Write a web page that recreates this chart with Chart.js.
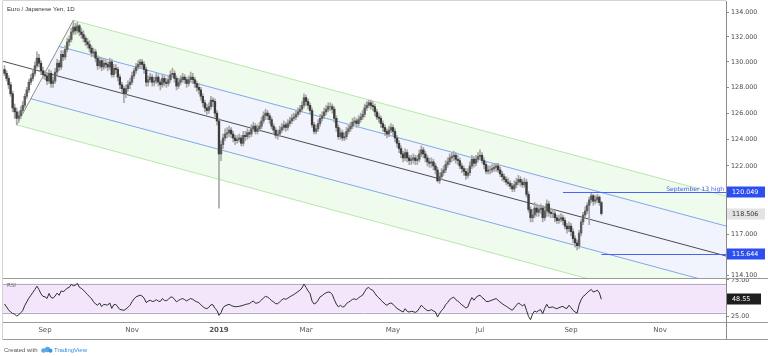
<!DOCTYPE html>
<html><head><meta charset="utf-8">
<script src="https://cdn.jsdelivr.net/npm/chart.js@4.4.0/dist/chart.umd.min.js"></script>
<style>
html,body{margin:0;padding:0;background:#fff;width:768px;height:356px;overflow:hidden}
#wrap{position:relative;width:768px;height:356px}
#c1{position:absolute;left:0;top:0}
#c2{position:absolute;left:0;top:279px}
</style></head>
<body><div id="wrap">
<canvas id="c1" width="768" height="279"></canvas>
<canvas id="c2" width="768" height="77"></canvas>
</div>
<script>
// ---- data (bar index 0 = 3 Sep 2018, daily bars, weekdays) ----
const startIndex = -20;
const firstOpen = 129.4;
const closes = [
129.1,128.7,128.2,127.5,126.4,126.1,125.6,125.8,126.2,126.6,
127.3,127.8,128.4,128.7,129.1,129.7,130.3,129.9,129.3,129.0,
128.9,128.5,129.1,128.3,128.5,129.2,129.9,129.6,130.6,130.4,
131.0,131.6,131.8,132.4,132.8,132.5,132.9,132.4,132.2,131.9,
131.6,131.4,131.1,130.7,130.8,130.3,129.7,130.1,129.6,129.9,
129.8,129.6,130.0,129.0,129.5,129.4,128.8,128.2,127.9,127.5,
127.9,128.2,128.4,128.9,129.3,129.6,129.8,130.0,129.8,129.4,
128.4,128.6,128.8,128.4,128.5,128.8,128.4,128.2,128.7,128.4,
128.3,128.6,129.0,129.1,128.7,128.1,128.4,128.6,128.8,128.6,
128.3,128.6,128.8,128.6,128.3,128.0,127.8,127.3,126.8,126.4,
126.2,126.5,127.0,126.9,126.0,125.4,122.9,123.6,124.1,124.4,
124.5,124.7,124.4,124.1,123.9,124.0,124.1,123.7,124.3,124.2,
124.5,124.4,124.8,125.0,124.6,124.8,125.0,125.4,125.8,126.0,
125.8,125.5,125.0,124.7,124.3,124.4,124.7,124.9,125.1,124.9,
125.2,125.4,125.6,125.7,125.9,126.1,126.3,126.6,127.2,126.9,
126.6,126.2,125.1,124.6,124.8,125.2,125.6,125.8,126.1,126.3,
126.5,126.5,126.3,125.6,124.9,124.2,124.5,124.1,124.2,124.6,
124.8,125.0,125.3,125.4,125.2,125.5,125.7,125.9,126.4,126.6,
126.8,126.6,126.5,126.1,125.7,125.6,125.2,124.9,124.6,124.4,
124.7,124.9,124.6,124.1,123.7,123.3,122.9,122.6,123.0,122.6,
122.4,122.5,122.6,122.4,122.5,122.9,123.2,122.9,122.6,122.3,
122.2,122.3,122.0,121.7,120.9,121.2,121.5,121.7,122.1,122.3,
122.6,122.7,122.8,122.5,122.4,122.0,121.8,121.6,121.3,121.5,
122.0,122.5,122.2,122.5,122.7,122.8,122.4,122.1,121.6,121.7,
121.7,121.8,121.9,122.0,121.7,121.4,121.2,121.0,120.8,120.7,
120.5,120.3,120.6,120.8,121.0,120.8,120.6,120.8,119.9,118.8,
118.2,118.4,118.9,118.6,118.8,118.9,118.2,118.7,119.2,118.6,
118.5,118.5,118.2,118.0,118.1,118.2,118.0,117.6,117.4,117.6,
117.2,116.7,116.4,116.2,117.1,117.9,118.4,118.7,119.1,119.5,
119.8,119.4,119.5,119.7,119.3,118.506];
const highs = [
129.7,129.3,128.9,128.4,127.7,126.7,126.4,126.1,126.5,126.9,
127.5,128.0,128.6,129.0,129.4,130.0,130.8,130.6,130.1,129.6,
129.3,129.1,129.4,129.3,128.8,129.5,130.2,130.1,130.9,130.9,
131.3,131.9,132.1,132.7,133.35,133.1,133.2,133.0,132.7,132.5,
132.1,131.9,131.7,131.3,131.1,131.0,130.5,130.4,130.3,130.2,
130.2,130.0,130.3,130.2,129.8,129.8,129.6,129.0,128.4,128.1,
128.2,128.5,128.7,129.2,129.5,129.9,130.1,130.2,130.2,130.0,
129.6,128.9,129.1,129.0,128.8,129.1,129.0,128.6,129.0,128.9,
128.7,128.9,129.3,129.5,129.3,128.9,128.7,128.9,129.1,129.0,
128.8,128.9,129.2,129.1,128.8,128.5,128.3,128.0,127.5,127.0,
126.7,126.8,127.3,127.2,127.1,126.2,125.6,123.9,124.4,124.8,
124.9,125.0,124.9,124.6,124.3,124.3,124.4,124.3,124.6,124.6,
124.8,124.7,125.1,125.3,125.2,125.1,125.3,125.7,126.1,126.3,
126.2,126.0,125.7,125.2,124.9,124.7,125.0,125.2,125.4,125.3,
125.5,125.7,125.9,126.0,126.2,126.4,126.6,126.9,127.5,127.4,
127.1,126.8,126.4,125.3,125.1,125.5,125.9,126.1,126.4,126.6,
126.8,126.8,126.7,126.5,125.8,125.1,124.8,124.7,124.5,124.9,
125.1,125.3,125.6,125.7,125.6,125.8,126.0,126.2,126.7,126.9,
127.0,127.0,126.9,126.7,126.3,126.0,125.8,125.4,125.1,124.8,
125.0,125.2,125.1,124.8,124.3,123.9,123.5,123.1,123.3,123.2,
122.8,122.8,122.9,122.8,122.8,123.2,123.5,123.4,123.1,122.8,
122.6,122.6,122.5,122.2,121.9,121.5,121.8,122.0,122.4,122.6,
122.9,123.0,123.1,123.0,122.8,122.6,122.2,122.0,121.8,121.8,
122.3,122.8,122.7,122.8,123.0,123.2,123.0,122.6,122.3,122.0,
122.0,122.1,122.2,122.2,122.2,121.9,121.6,121.4,121.2,121.1,
120.9,120.7,120.9,121.1,121.3,121.2,121.0,121.1,121.0,120.1,
119.0,118.8,119.3,119.2,119.1,119.2,119.1,119.0,119.5,119.4,
118.9,118.8,118.7,118.4,118.4,118.5,118.4,118.2,117.8,117.9,
117.8,117.4,116.9,116.6,117.3,118.1,118.6,119.0,119.3,119.7,
120.05,119.9,119.8,119.9,119.8,119.4];
const lows = [
128.9,128.5,127.9,127.3,126.1,125.6,125.1,125.3,125.6,126.0,
126.4,127.1,127.6,128.2,128.5,128.9,129.5,129.6,129.0,128.7,
128.6,128.2,128.3,128.0,128.0,128.3,129.0,129.3,129.4,130.1,
130.2,130.8,131.3,131.6,132.2,132.2,132.3,132.1,131.9,131.6,
131.3,131.1,130.8,130.4,130.4,130.0,129.4,129.5,129.3,129.4,
129.5,129.3,129.4,128.8,128.8,129.1,128.5,127.9,127.6,126.8,
127.2,127.7,127.9,128.2,128.7,129.1,129.4,129.5,129.5,129.1,
128.1,128.1,128.4,128.1,128.1,128.3,128.1,127.8,128.0,128.1,
128.0,128.1,128.4,128.8,128.4,127.8,127.9,128.2,128.4,128.3,
128.0,128.1,128.4,128.3,128.0,127.7,127.5,127.0,126.5,126.1,
125.9,126.0,126.3,126.5,125.7,125.1,118.9,122.4,123.3,123.9,
124.1,124.2,124.1,123.8,123.6,123.7,123.8,123.5,123.5,123.9,
124.0,124.1,124.2,124.6,124.4,124.4,124.6,124.8,125.2,125.5,
125.5,125.2,124.8,124.4,124.1,124.0,124.2,124.5,124.7,124.6,
124.7,125.0,125.2,125.4,125.5,125.7,125.9,126.1,126.4,126.6,
126.3,125.9,124.9,124.4,124.4,124.6,125.0,125.4,125.6,125.9,
126.1,126.2,126.0,125.3,124.6,124.0,124.0,123.9,123.9,124.0,
124.4,124.6,124.8,125.1,124.9,125.0,125.3,125.5,125.7,126.2,
126.4,126.3,126.2,125.8,125.5,125.3,124.9,124.6,124.3,124.1,
124.2,124.5,124.3,123.8,123.4,123.0,122.6,122.3,122.4,122.3,
122.1,122.1,122.2,122.1,122.1,122.3,122.7,122.6,122.3,122.0,
121.9,121.9,121.7,121.4,120.8,120.7,121.0,121.3,121.5,121.9,
122.1,122.3,122.4,122.2,122.1,121.8,121.5,121.3,121.0,121.1,
121.3,121.8,121.9,122.0,122.3,122.5,122.2,121.8,121.4,121.4,
121.4,121.5,121.6,121.6,121.5,121.2,120.9,120.8,120.6,120.5,
120.3,120.1,120.1,120.4,120.6,120.5,120.4,120.4,119.7,118.6,
117.9,117.9,118.2,118.3,118.3,118.5,117.9,118.0,118.3,118.3,
118.2,118.2,117.9,117.8,117.8,117.9,117.7,117.4,117.1,117.2,
116.9,116.4,116.1,115.9,116.0,116.9,117.7,118.2,118.5,117.7,
119.3,119.1,119.2,119.3,119.1,118.4];
const rsi = [
42,38,34,31,29,28,25.5,27,30,33,
40,45,50,54,58,62,66.5,62,56,52.5,
52,49.5,56.5,51,50,53,57,54,60,59,
61,64,64.8,69,67,68,70.4,65,63.4,61,
58,55,52,49.5,45,42,40.3,43.5,38.5,41.5,
41,40.5,43.5,36,41,41.5,38,34.5,34,33.3,
35,37.5,40.3,45,49,51.9,53,54.2,53,50,
44,46,47.2,45.5,46,48,46,45.5,49.5,47,
46.5,48.5,51.5,51.5,48.5,45,47,48.5,49.5,48,
46.3,48,49.5,48.5,46.5,45,44,41,38.5,36.5,
35.6,37.5,41,41,36,33.3,26.4,30,37,39.5,
40.5,41.7,40,38.9,38.3,38.5,38.9,39.5,40.3,41.3,
42,42.6,44.5,46.3,43,43.5,44.9,47.5,50.5,52.5,
51.5,49.5,46.5,44.9,42.5,42.5,44.9,47.5,49.5,48.5,
50,51.9,53.5,55,57,59,61,64,69.4,65,
60,56.5,46,42,43.5,47.2,52,53.5,56,57.5,
58.5,58,55,48,42,38,40.3,38,38.5,42.6,
44.5,46.3,48.5,49,48.1,50.5,52.5,54.2,59,63.4,
64.8,62,61,57,53,50.5,47.5,44.9,42,40.3,
42.5,43.5,41.7,38.5,36,34.3,32.5,31,35.6,32,
31,32,31.5,30.5,32,36,40.3,37.5,35,33,
33,34.3,32.5,31,24.1,29,33,36,41,44,
48.1,50,51.5,48,46.3,43.5,41,38.9,36.5,38,
45.5,50.9,47.2,51,53,54.2,51,49,45.5,45.5,
46.3,47.5,48.5,49.5,47,44.5,42.5,40.5,38.9,37,
35,33.5,37,40.3,43.5,41.5,39.5,41.7,33.3,25,
20.4,28.7,32.4,31,33,34.3,28.7,36,41.7,37,
37.5,38,36.5,35.6,37,38,38.9,36.5,36,40.3,
37,33.3,31,29.6,41,48,52.5,54.5,57.5,60,
62,58.5,59.5,61,57.4,48.55];
const monthTicks = [0,43,86,129,172,215,260,304];
const monthLabels = ['Sep','Nov','2019','Mar','May','Jul','Sep','Nov'];
const priceTicks = [134,132,130,128,126,124,122,117,114.1];
const rsiTicks = [75,25];
const pitchP1 = [-40,130.89];
const pitchP2 = [-14,125.1];
const pitchP3 = [14,133.35];
const sep13High = 120.049, sep13From = 256;
const lowLevel = 115.644, lowLevelFrom = 275;

// ---- derived ----
const opens = closes.map((c,k)=> k===0 ? firstOpen : closes[k-1]);
const idx = closes.map((_,k)=> startIndex + k);
const lastClose = closes[closes.length-1];
const lastRsi = rsi[rsi.length-1];

const X_MIN = -20.76, X_MAX = 336.6;
const BLUE = '#2d4ff0';
const FONT = '"DejaVu Sans", sans-serif';
Chart.defaults.font.family = 'DejaVu Sans';

function poly(ctx, pts, fill){ctx.beginPath();ctx.moveTo(pts[0].x,pts[0].y);for(const p of pts.slice(1))ctx.lineTo(p.x,p.y);ctx.closePath();ctx.fillStyle=fill;ctx.fill();}
function seg(ctx,a,b,color){ctx.beginPath();ctx.moveTo(a.x,a.y);ctx.lineTo(b.x,b.y);ctx.strokeStyle=color;ctx.lineWidth=1;ctx.stroke();}
function axisBox(ctx, y, text, bg, fg, x0, x1){
  ctx.fillStyle=bg; ctx.fillRect(x0, Math.round(y)-5.5, x1-x0, 11);
  ctx.fillStyle=fg; ctx.font='6.4px '+FONT; ctx.textAlign='left'; ctx.textBaseline='middle';
  ctx.fillText(text, x0+5, y+0.5);
}

const pricePlugin = {
  id:'pricePlugin',
  beforeDatasetsDraw(chart){
    const {ctx, chartArea:ca, scales:{x,y}} = chart;
    const P = q => ({x:x.getPixelForValue(q[0]), y:y.getPixelForValue(q[1])});
    const a=P(pitchP2), b=P(pitchP3), p1=P(pitchP1);
    const m={x:(a.x+b.x)/2,y:(a.y+b.y)/2};
    let dx=m.x-p1.x, dy=m.y-p1.y; const L=Math.hypot(dx,dy); dx=dx/L*3000; dy=dy/L*3000;
    const lerp=t=>({x:a.x+(b.x-a.x)*t,y:a.y+(b.y-a.y)*t});
    const q25=lerp(0.25), q75=lerp(0.75);
    const far=p=>({x:p.x+dx,y:p.y+dy});
    ctx.save();
    ctx.beginPath(); ctx.rect(ca.left,ca.top,ca.width,ca.height); ctx.clip();
    poly(ctx,[b,far(b),far(a),a],'#effbec');
    poly(ctx,[q75,far(q75),far(q25),q25],'#f1f4fc');
    seg(ctx,b,far(b),'#b6e8aa');
    seg(ctx,a,far(a),'#b6e8aa');
    seg(ctx,q75,far(q75),'#80a8ec');
    seg(ctx,q25,far(q25),'#80a8ec');
    seg(ctx,p1,far(m),'#4d4d4d');
    seg(ctx,a,b,'#8c8c8c');
    ctx.restore();
  },
  afterDatasetsDraw(chart){
    const {ctx, chartArea:ca, scales:{x,y}} = chart;
    ctx.save();
    const yh=Math.round(y.getPixelForValue(sep13High))+0.5;
    ctx.beginPath();ctx.moveTo(x.getPixelForValue(sep13From),yh);ctx.lineTo(ca.right,yh);
    ctx.strokeStyle='#4a63f5';ctx.lineWidth=1;ctx.stroke();
    ctx.fillStyle='#3f5cf0';ctx.font='6px '+FONT;ctx.textAlign='right';ctx.textBaseline='alphabetic';
    ctx.fillText('September 13 high', ca.right-2, yh-2);
    const yl=Math.round(y.getPixelForValue(lowLevel))+0.5;
    ctx.beginPath();ctx.moveTo(x.getPixelForValue(lowLevelFrom),yl);ctx.lineTo(ca.right,yl);
    ctx.strokeStyle='#4a63f5';ctx.stroke();
    ctx.restore();
  },
  afterDraw(chart){
    const {ctx, chartArea:ca, scales:{y}} = chart;
    ctx.save();
    ctx.strokeStyle='#d4d4d4';ctx.lineWidth=1;
    ctx.beginPath();ctx.moveTo(ca.left-0.5,ca.top-0.5);ctx.lineTo(ca.right,ca.top-0.5);ctx.stroke();
    ctx.beginPath();ctx.moveTo(ca.left-0.5,ca.top);ctx.lineTo(ca.left-0.5,chart.height);ctx.stroke();
    ctx.strokeStyle='#9a9a9a';
    ctx.beginPath();ctx.moveTo(ca.left,ca.bottom+0.5);ctx.lineTo(chart.width,ca.bottom+0.5);ctx.stroke();
    axisBox(ctx, y.getPixelForValue(sep13High), sep13High.toFixed(3), BLUE, '#fff', ca.right+1, 765);
    axisBox(ctx, y.getPixelForValue(lastClose), lastClose.toFixed(3), '#e3e3e3', '#333', ca.right+1, 765);
    axisBox(ctx, y.getPixelForValue(lowLevel), lowLevel.toFixed(3), BLUE, '#fff', ca.right+1, 765);
    ctx.fillStyle='#333';ctx.font='6.1px "Liberation Sans", sans-serif';ctx.textAlign='left';ctx.textBaseline='middle';
    ctx.fillText('Euro / Japanese Yen, 1D', 7, 9.5);
    ctx.restore();
  }
};

new Chart(document.getElementById('c1'), {
  type:'bar',
  data:{datasets:[
    {label:'body', order:1, grouped:false, barThickness:1.7,
     data: idx.map((i,k)=>({x:i, y:[opens[k], closes[k]]})),
     backgroundColor: c => closes[c.dataIndex] >= opens[c.dataIndex] ? '#5e5e5e' : '#3c3c3c'},
    {label:'wick', order:2, grouped:false, barThickness:1,
     data: idx.map((i,k)=>({x:i, y:[lows[k], highs[k]]})),
     backgroundColor:'#a8a8a8'}
  ]},
  options:{
    responsive:false, animation:false, events:[],
    layout:{padding:{left:3,top:1,bottom:1,right:0}},
    plugins:{legend:{display:false},tooltip:{enabled:false}},
    scales:{
      x:{type:'linear',display:false,min:X_MIN,max:X_MAX,offset:false},
      y:{type:'logarithmic',position:'right',min:113.93,max:134.93,
        afterBuildTicks:s=>{s.ticks=priceTicks.map(v=>({value:v}));},
        afterFit:s=>{s.width=42;s.paddingTop=0;s.paddingBottom=0;},
        ticks:{autoSkip:false,callback:v=>Number(v).toFixed(3),font:{size:6.4},color:'#4a4a4a',padding:2},
        grid:{drawOnChartArea:false,drawTicks:true,tickLength:3,color:'#8a8a8a'},
        border:{display:true,color:'#8a8a8a'}}
    }
  },
  plugins:[pricePlugin]
});

const rsiPlugin = {
  id:'rsiPlugin',
  beforeDatasetsDraw(chart){
    const {ctx, chartArea:ca, scales:{y}} = chart;
    const y70=y.getPixelForValue(70), y30=y.getPixelForValue(30);
    ctx.save();
    ctx.fillStyle='#f3e6fb';ctx.fillRect(ca.left,y70,ca.width,y30-y70);
    ctx.strokeStyle='#b4aac4';ctx.lineWidth=1;
    ctx.beginPath();ctx.moveTo(ca.left,Math.round(y70)+0.5);ctx.lineTo(ca.right,Math.round(y70)+0.5);ctx.stroke();
    ctx.beginPath();ctx.moveTo(ca.left,Math.round(y30)+0.5);ctx.lineTo(ca.right,Math.round(y30)+0.5);ctx.stroke();
    ctx.restore();
  },
  afterDraw(chart){
    const {ctx, chartArea:ca, scales:{y}} = chart;
    ctx.save();
    ctx.strokeStyle='#d4d4d4';ctx.lineWidth=1;
    ctx.beginPath();ctx.moveTo(ca.left-0.5,0);ctx.lineTo(ca.left-0.5,ca.bottom+17);ctx.stroke();
    ctx.strokeStyle='#9a9a9a';
    ctx.beginPath();ctx.moveTo(ca.left,ca.bottom+0.5);ctx.lineTo(chart.width,ca.bottom+0.5);ctx.stroke();
    ctx.beginPath();ctx.moveTo(ca.left-0.5,ca.bottom+17.5);ctx.lineTo(chart.width,ca.bottom+17.5);ctx.stroke();
    ctx.strokeStyle='#8a8a8a';
    ctx.beginPath();ctx.moveTo(ca.right+0.5,ca.bottom);ctx.lineTo(ca.right+0.5,ca.bottom+17);ctx.stroke();
    ctx.fillStyle='#666';ctx.font='5.5px '+FONT;ctx.textAlign='left';ctx.textBaseline='middle';
    ctx.fillText('RSI', 7, 7);
    axisBox(ctx, y.getPixelForValue(lastRsi), lastRsi.toFixed(2), '#1f1f1f', '#fff', ca.right+1, 761);
    // footer
    const fy = ca.bottom + 28;
    ctx.font='6px "Liberation Sans", sans-serif';ctx.fillStyle='#555';ctx.textBaseline='middle';
    ctx.fillText('Created with', 4, fy);
    ctx.fillStyle='#5aa9e6';
    ctx.beginPath();ctx.arc(43.5,fy+0.5,2.3,0,Math.PI*2);ctx.fill();
    ctx.beginPath();ctx.arc(47.5,fy-0.5,2.8,0,Math.PI*2);ctx.fill();
    ctx.fillStyle='#3d8fe0';
    ctx.beginPath();ctx.arc(50.5,fy+0.7,2,0,Math.PI*2);ctx.fill();
    ctx.fillStyle='#2f8ee5';
    ctx.fillText('TradingView', 54, fy);
    ctx.restore();
  }
};

new Chart(document.getElementById('c2'), {
  type:'line',
  data:{datasets:[{label:'RSI',data:idx.map((i,k)=>({x:i,y:rsi[k]})),borderColor:'#2e2e2e',borderWidth:1,pointRadius:0,tension:0,fill:false}]},
  options:{
    responsive:false, animation:false, events:[],
    layout:{padding:{left:3,top:0,bottom:17,right:0}},
    plugins:{legend:{display:false},tooltip:{enabled:false}},
    scales:{
      x:{type:'linear',position:'bottom',min:X_MIN,max:X_MAX,offset:false,
        afterBuildTicks:s=>{s.ticks=monthTicks.map(v=>({value:v}));},
        afterFit:s=>{s.height=17;s.paddingLeft=0;s.paddingRight=0;},
        ticks:{autoSkip:false,maxRotation:0,padding:4,color:'#555',
          callback:(v,k)=>monthLabels[k],
          font:c=>({size:7,weight:(monthLabels[c.index]==='2019')?'bold':'normal'})},
        grid:{display:false,drawTicks:false,tickLength:0},border:{display:false}},
      y:{type:'linear',position:'right',min:17.31,max:76.37,
        afterBuildTicks:s=>{s.ticks=rsiTicks.map(v=>({value:v}));},
        afterFit:s=>{s.width=42;s.paddingTop=0;s.paddingBottom=0;},
        ticks:{autoSkip:false,callback:v=>Number(v).toFixed(2),font:{size:6.4},color:'#4a4a4a',padding:2},
        grid:{drawOnChartArea:false,drawTicks:true,tickLength:3,color:'#8a8a8a'},
        border:{display:true,color:'#8a8a8a'}}
    }
  },
  plugins:[rsiPlugin]
});
</script>
</body></html>
